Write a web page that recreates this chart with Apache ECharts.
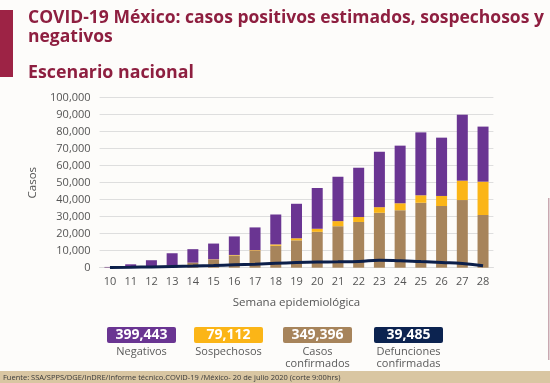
<!DOCTYPE html>
<html>
<head>
<meta charset="utf-8">
<script src="https://cdn.jsdelivr.net/npm/echarts@6/dist/echarts.min.js"></script>
<style>
html,body{margin:0;padding:0;background:#fdfcfa;}
#c{width:550px;height:383px;}
</style>
</head>
<body>
<div id="c"></div>
<script>
var weeks = ['10','11','12','13','14','15','16','17','18','19','20','21','22','23','24','25','26','27','28'];
var confirmados = [150, 300, 500, 1500, 2800, 4600, 7200, 9900, 12900, 16100, 21100, 24400, 26900, 32300, 33800, 38200, 36300, 39800, 31000];
var sospechosos = [0, 0, 50, 100, 150, 300, 300, 400, 800, 1200, 1800, 3000, 2900, 3300, 4100, 4400, 5900, 11400, 19600];
var negativos = [300, 1700, 3850, 6900, 7950, 9300, 10900, 13400, 17600, 20300, 24000, 26100, 29000, 32600, 33900, 37000, 34300, 38800, 32400];
var defunciones = [100, 250, 450, 700, 950, 1300, 1700, 2100, 2600, 3000, 3300, 3500, 3700, 4400, 4100, 3600, 3100, 2500, 1100];
var yTicks = [0, 10000, 20000, 30000, 40000, 50000, 60000, 70000, 80000, 90000, 100000];
var totals = [
  {value: '399,443', label: 'Negativos', color: '#6a3592'},
  {value: '79,112', label: 'Sospechosos', color: '#fbb517'},
  {value: '349,396', label: 'Casos\nconfirmados', color: '#a7845b'},
  {value: '39,485', label: 'Defunciones\nconfirmadas', color: '#0c2350'}
];
var title1 = 'COVID-19 México: casos positivos estimados, sospechosos y';
var title2 = 'negativos';
var subtitle = 'Escenario nacional';
var fuente = 'Fuente: SSA/SPPS/DGE/InDRE/Informe técnico.COVID-19 /México- 20 de julio 2020 (corte 9:00hrs)';

var FONT = 'Open Sans';
var chart = echarts.init(document.getElementById('c'), null, {renderer: 'canvas'});

var graphics = [
  {type: 'rect', shape: {x: 0, y: 10, width: 13, height: 67}, style: {fill: '#9d2345'}},
  {type: 'text', x: 28, y: 18.3, style: {text: title1, fill: '#8e1f40', font: 'bold 17.5px "' + FONT + '"', textVerticalAlign: 'middle'}},
  {type: 'text', x: 28, y: 36.8, style: {text: title2, fill: '#8e1f40', font: 'bold 17.5px "' + FONT + '"', textVerticalAlign: 'middle'}},
  {type: 'text', x: 28, y: 72.8, style: {text: subtitle, fill: '#8e1f40', font: 'bold 17.8px "' + FONT + '"', textVerticalAlign: 'middle'}},
  {type: 'rect', shape: {x: 0, y: 371, width: 550, height: 12}, style: {fill: '#d9c6a2'}},
  {type: 'text', x: 3, y: 377.5, style: {text: fuente, fill: '#3a3a3a', font: '7.5px "' + FONT + '"', textVerticalAlign: 'middle'}},
  {type: 'rect', shape: {x: 548, y: 198, width: 1.5, height: 162}, style: {fill: '#c9a7b0'}}
];
var boxX = [107, 194, 283, 374];
totals.forEach(function (t, i) {
  graphics.push({type: 'rect', shape: {x: boxX[i], y: 327, width: 69, height: 16, r: 2}, style: {fill: t.color}});
  graphics.push({type: 'text', x: boxX[i] + 34.5, y: 335, style: {text: t.value, fill: '#ffffff', font: 'bold 14px "' + FONT + '"', textAlign: 'center', textVerticalAlign: 'middle'}});
  graphics.push({type: 'text', x: boxX[i] + 34.5, y: 345.5, style: {text: t.label, fill: '#5a5a5a', font: '11px "' + FONT + '"', textAlign: 'center', textVerticalAlign: 'top', lineHeight: 12}});
});

chart.setOption({
  backgroundColor: '#fdfcfa',
  animation: false,
  graphic: graphics,
  grid: {left: 99.6, right: 56.6, top: 97.7, bottom: 115.3, containLabel: false},
  xAxis: {
    type: 'category',
    data: weeks,
    name: 'Semana epidemiológica',
    nameLocation: 'middle',
    nameGap: 29,
    nameTextStyle: {color: '#555', fontSize: 11.5, fontFamily: FONT},
    axisLine: {lineStyle: {color: '#dcdcdc'}},
    axisTick: {show: false},
    axisLabel: {color: '#555', fontSize: 11, fontFamily: FONT, margin: 9, interval: 0}
  },
  yAxis: {
    type: 'value',
    min: 0, max: 100000, interval: 10000,
    name: 'Casos',
    nameLocation: 'middle',
    nameGap: 58,
    nameRotate: 90,
    nameTextStyle: {color: '#555', fontSize: 11.5, fontFamily: FONT},
    axisLine: {show: false},
    axisTick: {show: false},
    splitLine: {lineStyle: {color: '#dedede', width: 1}},
    axisLabel: {
      color: '#555', fontSize: 11, fontFamily: FONT, margin: 9,
      formatter: function (v) { return yTicks.indexOf(v) >= 0 ? v.toLocaleString('en-US') : ''; }
    }
  },
  series: [
    {name: 'Casos confirmados', type: 'bar', stack: 'a', data: confirmados, barWidth: 11, itemStyle: {color: '#a7845b'}},
    {name: 'Sospechosos', type: 'bar', stack: 'a', data: sospechosos, barWidth: 11, itemStyle: {color: '#fbb517'}},
    {name: 'Negativos', type: 'bar', stack: 'a', data: negativos, barWidth: 11, itemStyle: {color: '#6a3592'}},
    {name: 'Defunciones', type: 'line', data: defunciones, smooth: true, symbol: 'none', z: 5, lineStyle: {color: '#0c1f4a', width: 3}}
  ]
});
</script>
</body>
</html>
